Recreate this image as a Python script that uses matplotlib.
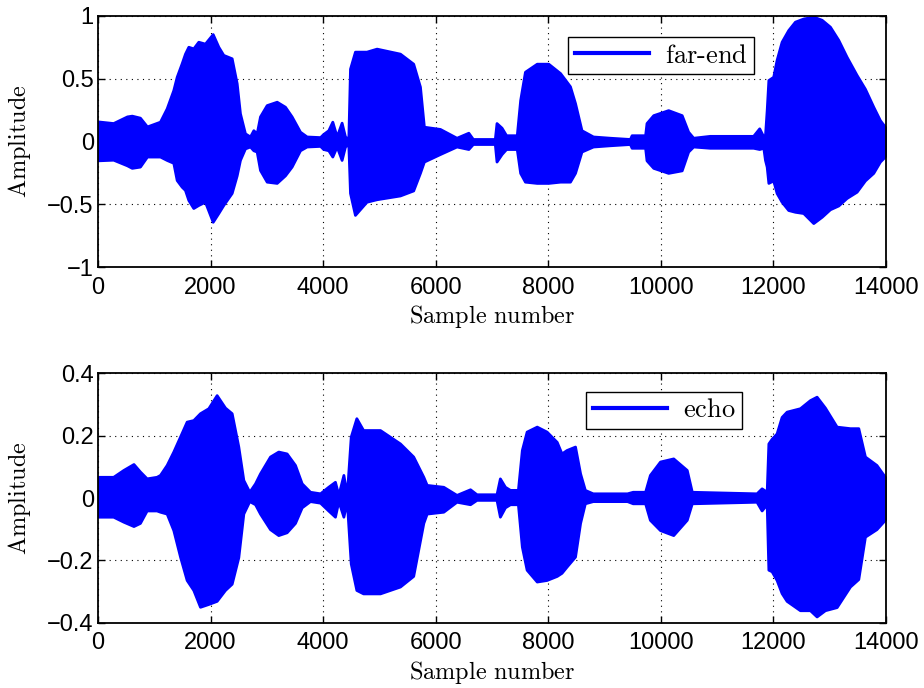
import matplotlib
matplotlib.use("Agg")
import matplotlib.pyplot as plt
from matplotlib.lines import Line2D

# ---- data: envelope of the waveforms (sample number, upper, lower) ----
far_x = [0, 270, 515, 600, 745, 870, 1101, 1220, 1338, 1398, 1486, 1545, 1605, 1693, 1782, 1900,
         2038, 2138, 2226, 2375, 2464, 2522, 2611, 2700, 2760, 2819, 2878, 2997, 3175, 3322, 3440,
         3589, 3707, 3945, 4002, 4092, 4163, 4240, 4328, 4388, 4447, 4477, 4565, 4770, 4950, 5365,
         5600, 5720, 5790, 6075, 6370, 6580, 6660, 7050, 7080, 7170, 7250, 7440, 7500, 7585, 7795,
         8000, 8210, 8385, 8475, 8590, 8795, 9095, 9450, 9480, 9720, 9745, 9865, 10130, 10370,
         10485, 10575, 10870, 11640, 11748, 11820, 11850, 11880, 11910, 11996, 12056, 12145, 12263,
         12382, 12530, 12708, 12857, 13004, 13152, 13300, 13478, 13626, 13774, 13892, 13980, 14000]
far_up = [0.16, 0.147, 0.2, 0.206, 0.19, 0.12, 0.158, 0.264, 0.41, 0.516, 0.623, 0.70, 0.755, 0.742, 0.795, 0.78,
          0.856, 0.755, 0.69, 0.663, 0.464, 0.225, 0.065, 0.04, 0.09, 0.065, 0.2, 0.29, 0.317, 0.277, 0.2,
          0.078, 0.04, 0.035, 0.06, 0.09, 0.158, 0.04, 0.15, 0.04, 0.02, 0.58, 0.716, 0.716, 0.74, 0.70,
          0.62, 0.437, 0.118, 0.10, 0.03, 0.07, 0.02, 0.02, 0.147, 0.11, 0.05, 0.05, 0.33, 0.556, 0.62,
          0.62, 0.545, 0.44, 0.306, 0.09, 0.04, 0.03, 0.02, 0.05, 0.05, 0.147, 0.21, 0.25, 0.21,
          0.078, 0.03, 0.045, 0.045, 0.105, 0.04, 0.05, 0.25, 0.49, 0.516, 0.65, 0.795, 0.888,
          0.955, 0.98, 0.995, 0.97, 0.915, 0.81, 0.675, 0.53, 0.42, 0.277, 0.17, 0.118, 0.1]
far_lo = [-0.15, -0.145, -0.19, -0.21, -0.2, -0.12, -0.12, -0.147, -0.17, -0.307, -0.36, -0.386, -0.466, -0.53, -0.506, -0.48,
          -0.64, -0.57, -0.506, -0.41, -0.27, -0.147, -0.055, -0.04, -0.07, -0.08, -0.227, -0.32, -0.33, -0.27, -0.2,
          -0.07, -0.04, -0.035, -0.06, -0.07, -0.12, -0.04, -0.147, -0.04, -0.02, -0.41, -0.585, -0.48, -0.46, -0.43,
          -0.39, -0.25, -0.16, -0.10, -0.04, -0.06, -0.02, -0.02, -0.16, -0.10, -0.06, -0.06, -0.25, -0.32, -0.33,
          -0.33, -0.32, -0.32, -0.25, -0.08, -0.04, -0.03, -0.02, -0.05, -0.05, -0.15, -0.21, -0.25, -0.23,
          -0.08, -0.04, -0.05, -0.05, -0.06, -0.05, -0.147, -0.2, -0.33, -0.31, -0.41, -0.48, -0.546,
          -0.56, -0.57, -0.65, -0.6, -0.54, -0.51, -0.45, -0.40, -0.31, -0.25, -0.16, -0.12, -0.1]

echo_x = [0, 270, 450, 630, 745, 865, 1040, 1101, 1220, 1338, 1457, 1575, 1693, 1812, 1960, 2108,
          2256, 2375, 2493, 2582, 2688, 2790, 2878, 3056, 3203, 3351, 3500, 3619, 3767, 3945, 4090,
          4210, 4270, 4360, 4420, 4490, 4590, 4710, 5010, 5365, 5600, 5780, 5840, 6135, 6370, 6610,
          6725, 7080, 7140, 7230, 7320, 7460, 7530, 7615, 7795, 7970, 8150, 8235, 8325, 8475,
          8565, 8650, 8790, 9400, 9500, 9720, 9805, 9985, 10220, 10460, 10550, 11700, 11790, 11880,
          11910, 11968, 12056, 12145, 12234, 12471, 12649, 12767, 12915, 13123, 13360, 13508, 13626,
          13830, 13980, 14000]
echo_up = [0.068, 0.068, 0.09, 0.109, 0.085, 0.063, 0.068, 0.074, 0.106, 0.149, 0.197, 0.245, 0.25, 0.272, 0.288, 0.33,
           0.29, 0.272, 0.165, 0.058, 0.02, 0.047, 0.079, 0.133, 0.149, 0.143, 0.106, 0.047, 0.02, 0.015, 0.036,
           0.052, 0.01, 0.074, 0.01, 0.197, 0.256, 0.218, 0.218, 0.175, 0.133, 0.068, 0.042, 0.036, 0.01, 0.028,
           0.012, 0.012, 0.063, 0.036, 0.026, 0.026, 0.154, 0.213, 0.229, 0.213, 0.18, 0.143, 0.154, 0.165,
           0.079, 0.026, 0.015, 0.015, 0.02, 0.02, 0.074, 0.117, 0.127, 0.09, 0.02, 0.015, 0.031, 0.02,
           0.175, 0.19, 0.207, 0.26, 0.277, 0.288, 0.314, 0.325, 0.29, 0.229, 0.224, 0.224, 0.133,
           0.106, 0.068, 0.065]
echo_lo = [-0.06, -0.06, -0.076, -0.09, -0.08, -0.04, -0.04, -0.044, -0.05, -0.103, -0.188, -0.263, -0.295, -0.349, -0.34, -0.33,
           -0.295, -0.275, -0.19, -0.05, -0.01, -0.02, -0.05, -0.1, -0.119, -0.11, -0.08, -0.03, -0.01, -0.015, -0.04,
           -0.06, -0.01, -0.06, -0.01, -0.21, -0.295, -0.306, -0.306, -0.284, -0.25, -0.08, -0.05, -0.044, -0.012, -0.02,
           -0.006, -0.006, -0.06, -0.03, -0.02, -0.02, -0.156, -0.23, -0.268, -0.263, -0.25, -0.24, -0.22, -0.188,
           -0.08, -0.017, -0.01, -0.01, -0.017, -0.017, -0.07, -0.103, -0.119, -0.07, -0.017, -0.012, -0.04, -0.02,
           -0.23, -0.235, -0.263, -0.305, -0.33, -0.36, -0.36, -0.38, -0.36, -0.35, -0.284, -0.26, -0.124,
           -0.1, -0.07, -0.065]

x_ticks = [0, 2000, 4000, 6000, 8000, 10000, 12000, 14000]
far_yticks = [-1, -0.5, 0, 0.5, 1]
far_yticklabels = ["\u22121", "\u22120.5", "0", "0.5", "1"]
echo_yticks = [-0.4, -0.2, 0, 0.2, 0.4]
echo_yticklabels = ["\u22120.4", "\u22120.2", "0", "0.2", "0.4"]

plt.rcParams['mathtext.fontset'] = 'cm'
plt.rcParams['font.family'] = ['Liberation Sans', 'DejaVu Sans']

BLUE = (0, 0, 1)
fig = plt.figure(figsize=(9.24, 6.88), dpi=100)
ax1 = fig.add_axes([98/924, 1-267/688, 788/924, 251/688])
ax2 = fig.add_axes([98/924, 1-622.7/688, 788/924, 249.4/688])

panels = [
    (ax1, far_x, far_up, far_lo, (-1, 1), far_yticks, far_yticklabels, r'$\mathrm{far\text{-}end}$', (0.8325, 0.916)),
    (ax2, echo_x, echo_up, echo_lo, (-0.4, 0.4), echo_yticks, echo_yticklabels, r'$\mathrm{echo}$', (0.817, 0.926)),
]
for ax, xs, up, lo, ylim, yt, ytl, lab, anchor in panels:
    ax.fill_between(xs, lo, up, color=BLUE, linewidth=2, edgecolor=BLUE, zorder=2)
    ax.set_xlim(0, 14000)
    ax.set_ylim(*ylim)
    ax.set_xticks(x_ticks)
    ax.set_xticklabels([str(v) for v in x_ticks])
    ax.set_yticks(yt)
    ax.set_yticklabels(ytl)
    ax.tick_params(direction='in', top=True, right=True, labelsize=17, length=5, width=1, pad=3)
    ax.tick_params(axis='x', pad=7)
    ax.grid(True, linestyle=(0, (1, 4)), color='black', linewidth=0.8, zorder=0)
    ax.set_axisbelow(True)
    for s in ax.spines.values():
        s.set_linewidth(1.3)
    ax.set_xlabel(r'$\mathrm{Sample\ number}$', fontsize=17.5, labelpad=3)
    ax.set_ylabel(r'$\mathrm{Amplitude}$', fontsize=17.5, labelpad=10)
    h = Line2D([], [], color=BLUE, linewidth=3)
    leg = ax.legend([h], [lab], loc='upper right', bbox_to_anchor=anchor, fontsize=19,
                    fancybox=False, framealpha=1, edgecolor='black', handlelength=2.8,
                    borderpad=0.25, handletextpad=0.6, borderaxespad=0)
    leg.get_frame().set_linewidth(1.0)

fig.savefig('out.png', dpi=100)
